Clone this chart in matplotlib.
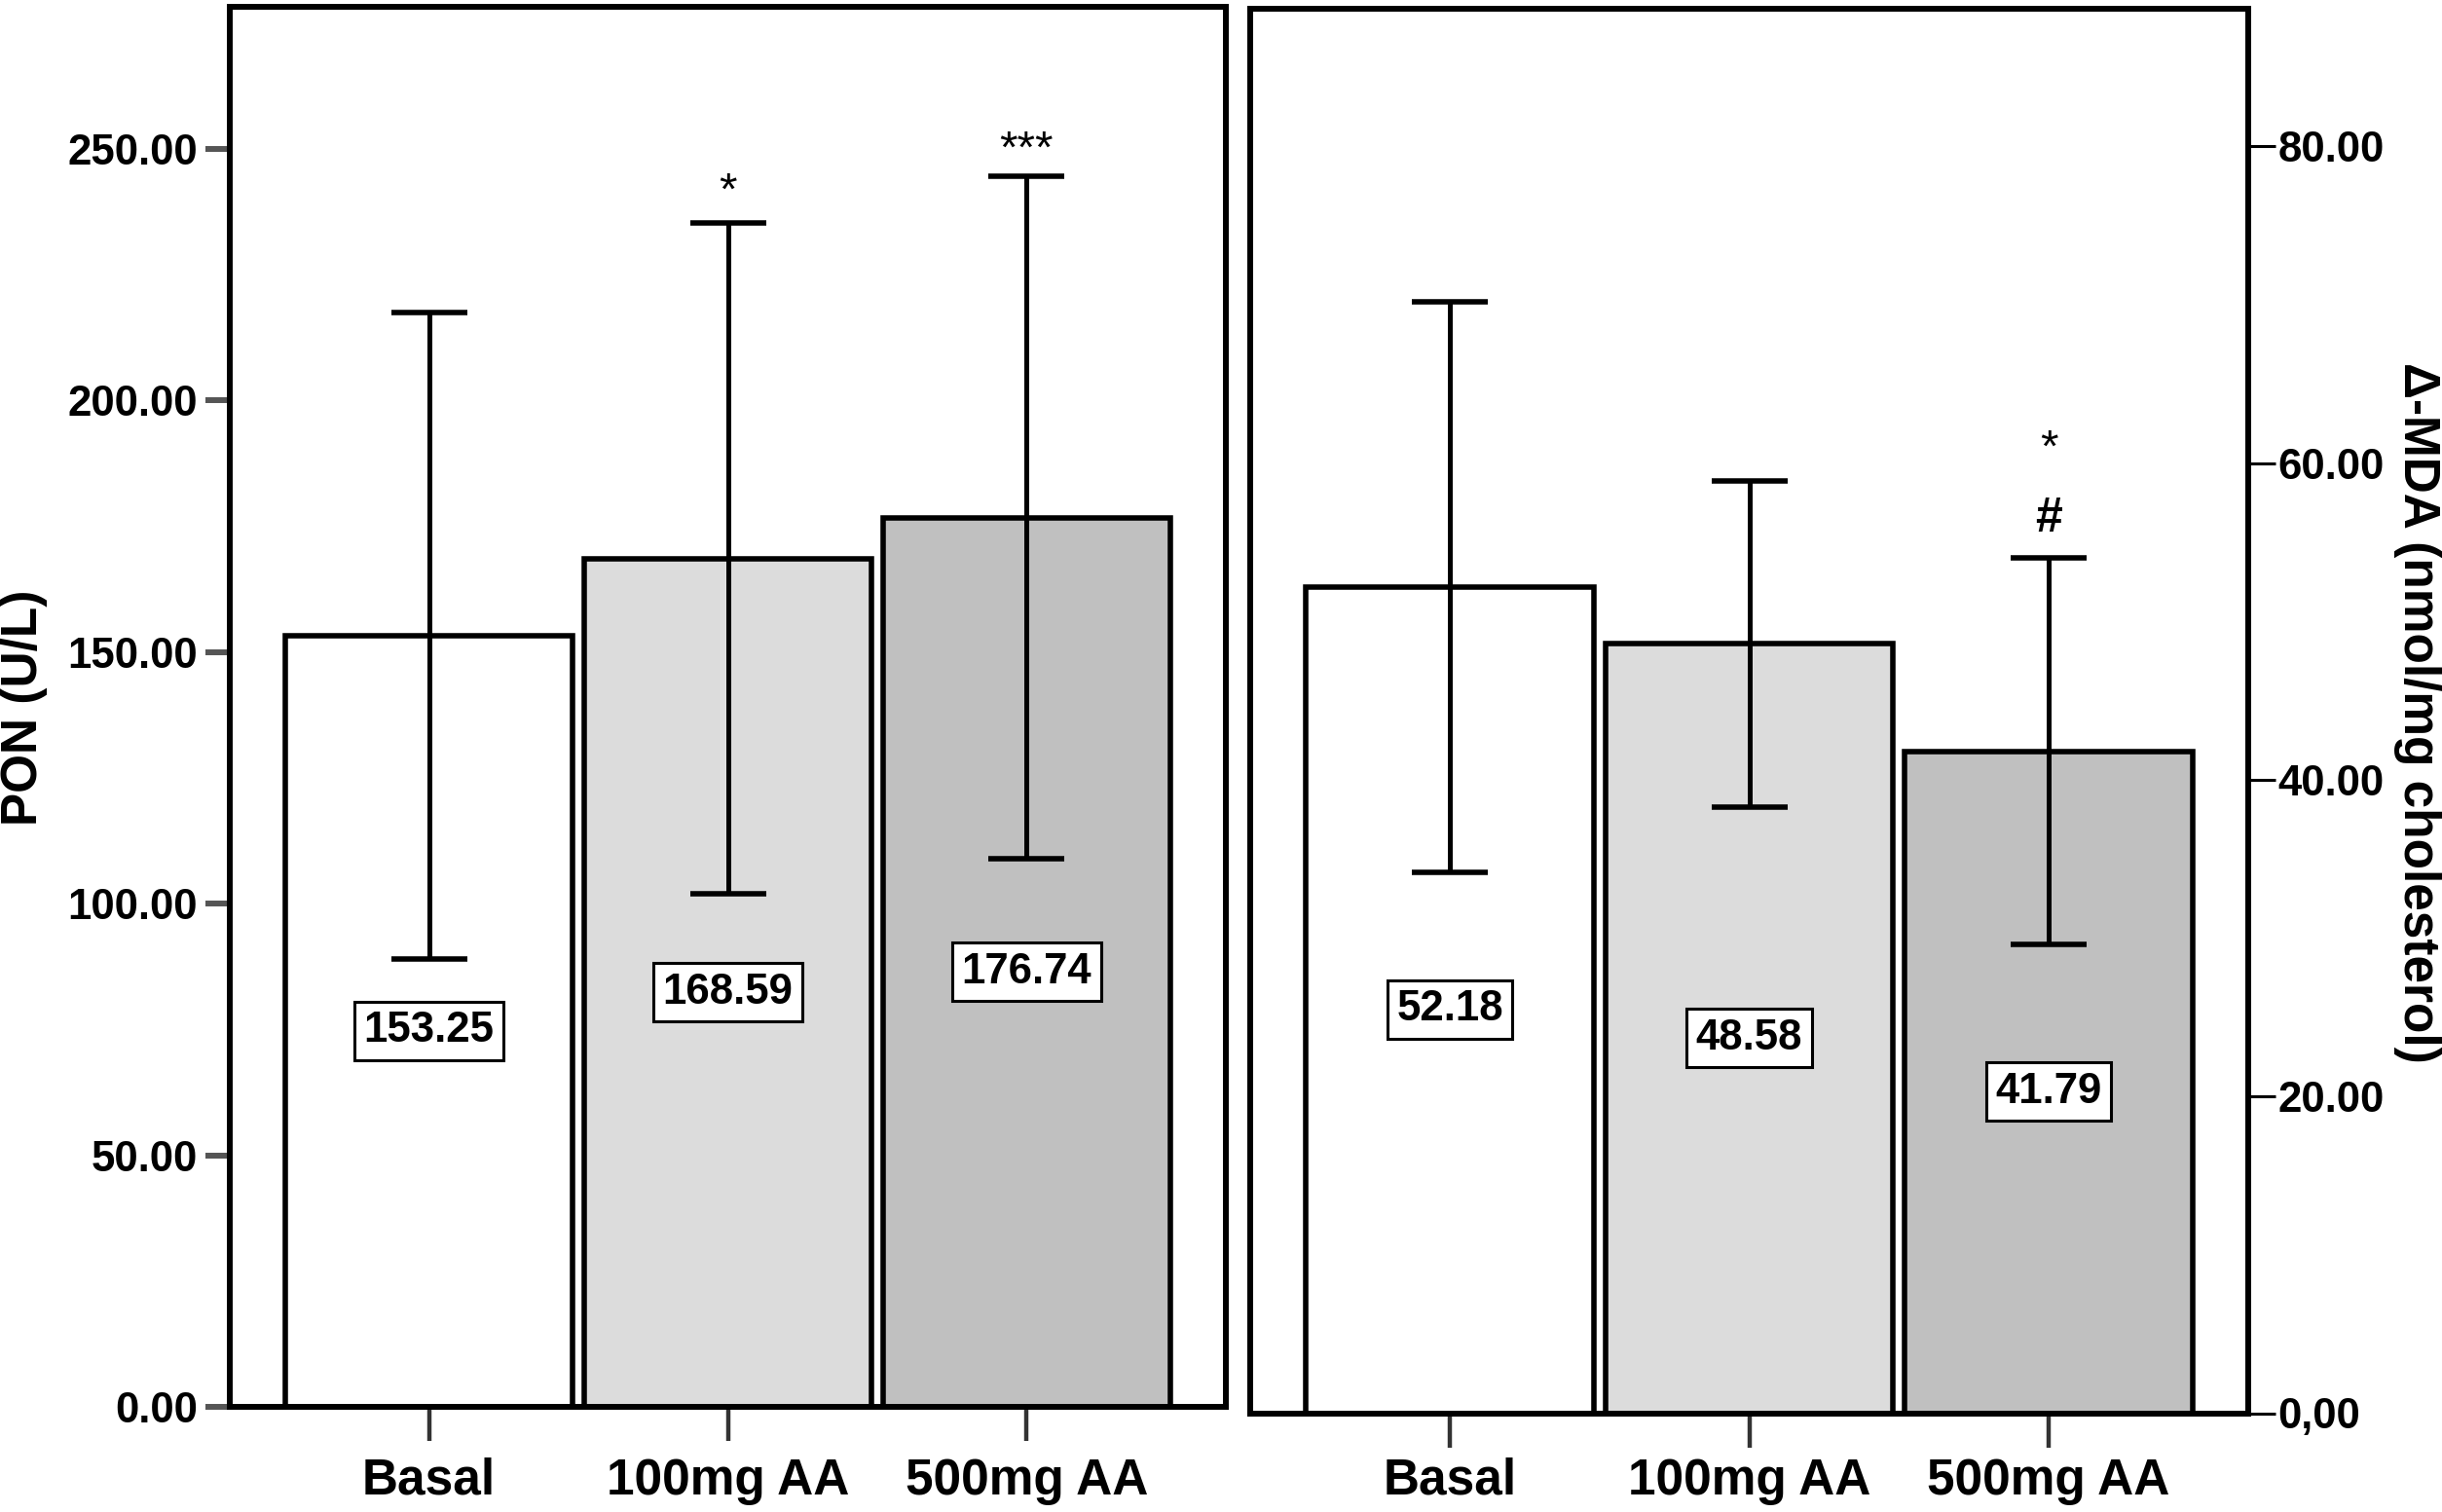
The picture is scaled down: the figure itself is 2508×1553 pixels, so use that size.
import matplotlib
matplotlib.use("Agg")
import matplotlib.pyplot as plt
import matplotlib.font_manager as fm
import numpy as np

# ---------------- data ----------------
categories = ["Basal", "100mg AA", "500mg AA"]

pon_means = [153.25, 168.59, 176.74]
pon_sd = [64.2, 66.6, 67.8]
pon_ticks = [0, 50, 100, 150, 200, 250]
pon_ticklabels = ["0.00", "50.00", "100.00", "150.00", "200.00", "250.00"]
pon_marks = ["", "*", "***"]

mda_means = [52.18, 48.58, 41.79]
mda_sd = [18.0, 10.3, 12.2]
mda_ticks = [0, 20, 40, 60, 80]
mda_ticklabels = ["0,00", "20.00", "40.00", "60.00", "80.00"]
mda_marks_hash = ["", "", "#"]
mda_marks_star = ["", "", "*"]

bar_colors = ["#FFFFFF", "#DCDCDC", "#C0C0C0"]

pon_label = "PON (U/L)"
mda_label = "\u0394-MDA (nmol/mg cholesterol)"

# ---------------- fonts ----------------
names = {f.name for f in fm.fontManager.ttflist}
if "Liberation Sans Narrow" in names:
    NARROW, narrow_size = "Liberation Sans Narrow", 34
else:
    NARROW, narrow_size = "Liberation Sans", 31.5
SANS = ["Liberation Sans", "DejaVu Sans"]
plt.rcParams["font.family"] = SANS

W, H = 2508, 1553
fig = plt.figure(figsize=(W / 100, H / 100), dpi=100)

ax1 = fig.add_axes([236 / W, 1 - 1445.4 / H, (1259 - 236) / W, (1445.4 - 7) / H])
ax2 = fig.add_axes([1284 / W, 1 - 1451.5 / H, (2309 - 1284) / W, (1451.5 - 8.7) / H])

x = np.arange(len(categories))


def draw_panel(ax, means, sds, ylim_top, xpad):
    ax.bar(x, means, width=0.96, color=bar_colors, edgecolor="black",
           linewidth=4.0, zorder=2)
    ax.errorbar(x, means, yerr=sds, fmt="none", ecolor="black",
                elinewidth=3.6, capsize=28, capthick=4.0, zorder=3)
    for xi, m in zip(x, means):
        ax.annotate(f"{m:.2f}", xy=(xi, m / 2), xytext=(0, -7),
                    textcoords="offset points", ha="center", va="center",
                    fontsize=narrow_size, fontweight="bold", family=NARROW,
                    zorder=4,
                    bbox=dict(boxstyle="square,pad=0.22", fc="white",
                              ec="black", lw=2.2))
    ax.set_xlim(-2 / 3, 2 + 2 / 3)
    ax.set_ylim(0, ylim_top)
    for s in ax.spines.values():
        s.set_linewidth(4.3)
        s.set_color("black")
    ax.set_xticks(x)
    ax.set_xticklabels(categories, fontsize=37, fontweight="bold")
    ax.tick_params(axis="x", direction="out", length=25, width=3.2,
                   color="#333333", pad=xpad, top=False)


draw_panel(ax1, pon_means, pon_sd, 278.2, 12)
draw_panel(ax2, mda_means, mda_sd, 88.7, 7.7)

# left y axis
ax1.set_yticks(pon_ticks)
ax1.set_yticklabels(pon_ticklabels, fontsize=narrow_size, fontweight="bold",
                    family=NARROW)
ax1.tick_params(axis="y", direction="out", length=18, width=4.3,
                color="#555555", pad=5.8, right=False)

# right y axis
ax2.yaxis.tick_right()
ax2.set_yticks(mda_ticks)
ax2.set_yticklabels(mda_ticklabels, fontsize=narrow_size, fontweight="bold",
                    family=NARROW)
ax2.tick_params(axis="y", direction="out", length=20, width=2.2,
                color="black", pad=2, left=False)

# significance marks (offsets measured from the upper error cap)
for xi, m, s, t in zip(x, pon_means, pon_sd, pon_marks):
    if t:
        off = 14.5 if t == "*" else 10.6
        ax1.annotate(t, xy=(xi, m + s), xytext=(0, off),
                     textcoords="offset points", ha="center", va="baseline",
                     fontsize=34, fontweight="normal", zorder=5)
for xi, m, s, t in zip(x, mda_means, mda_sd, mda_marks_hash):
    if t:
        ax2.annotate(t, xy=(xi, m + s), xytext=(0, 20),
                     textcoords="offset points", ha="center", va="baseline",
                     fontsize=36, fontweight="bold", zorder=5)
for xi, m, s, t in zip(x, mda_means, mda_sd, mda_marks_star):
    if t:
        ax2.annotate(t, xy=(xi, m + s), xytext=(0, 72),
                     textcoords="offset points", ha="center", va="baseline",
                     fontsize=34, fontweight="normal", zorder=5)

# axis titles
fig.text(25 / W, 1 - 727 / H, pon_label, rotation=90, ha="center",
         va="center", fontsize=37, fontweight="bold")
fig.text(2483 / W, 1 - 732 / H, mda_label, rotation=270, ha="center",
         va="center", fontsize=37, fontweight="bold")

fig.savefig("out.png", dpi=100, facecolor="white")
